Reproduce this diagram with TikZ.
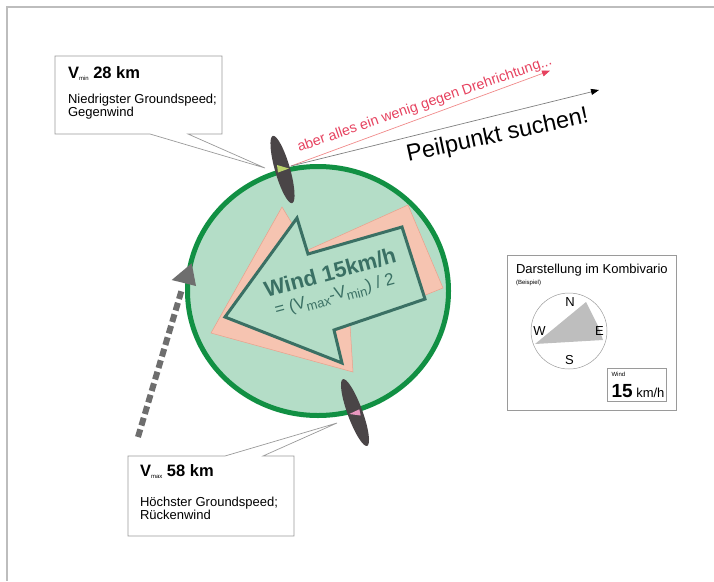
\documentclass[tikz,border=0pt]{standalone}
\usepackage{fontspec}
\setmainfont{Liberation Sans}
\usetikzlibrary{arrows.meta}
\definecolor{framegray}{HTML}{BDBDBD}
\definecolor{boxgray}{HTML}{9A9A9A}
\definecolor{mint}{HTML}{B4DDC7}
\definecolor{ringgreen}{HTML}{119043}
\definecolor{teal}{HTML}{3A7064}
\definecolor{salmon}{HTML}{F6C4B1}
\definecolor{salmonline}{HTML}{E9A08C}
\definecolor{prop}{HTML}{4A4547}
\definecolor{yellowtri}{HTML}{BBD46C}
\definecolor{pinktri}{HTML}{EA97C0}
\definecolor{redtext}{HTML}{E6425F}
\definecolor{redline}{HTML}{F08A8A}
\definecolor{dashgray}{HTML}{6E6E6E}
\definecolor{compassgray}{HTML}{BEBEBE}
\tikzset{
  callout/.style={draw=boxgray, fill=white, line width=0.7pt},
  txt/.style={inner sep=0pt, outer sep=0pt},
  bodytxt/.style={inner sep=0pt, outer sep=0pt, anchor=base west, align=left, font=\fontsize{13}{13.3}\selectfont},
}
\newcommand{\fs}[1]{\fontsize{#1}{#1}\selectfont}
\begin{document}
\begin{tikzpicture}[x=1pt,y=-1pt]
\useasboundingbox (0,0) rectangle (714,581);
% frame
\draw[framegray, line width=1.2pt] (714,7) -- (7,7) -- (7,581);

% callouts
\coordinate (tipmin) at (265,168);
\coordinate (tipmax) at (337,423);
\draw[callout] (55,56) -- (222,56) -- (222,134) -- (188,134) -- (tipmin) -- (150,134) -- (55,134) -- cycle;
\draw[callout] (128,456) -- (225,456) -- (tipmax) -- (263,456) -- (294,456) -- (294,536) -- (128,536) -- cycle;

\node[txt, anchor=base west] (vmin) at (68,78.5) {\bfseries\fs{16.5}V\raisebox{-1.5pt}{\mdseries\fs{6}min} 28 km};
\node[bodytxt] (vmintxt) at (68,116.7) {Niedrigster Groundspeed;\\Gegenwind};
\node[txt, anchor=base west] (vmax) at (140,476.7) {\bfseries\fs{16.5}V\raisebox{-1.5pt}{\mdseries\fs{6}max} 58 km};
\node[bodytxt] (vmaxtxt) at (140,519.3) {Höchster Groundspeed;\\Rückenwind};

% circle
\draw[ringgreen, fill=mint, line width=5pt] (318,291) ellipse (130.5 and 124.5);

% salmon shadow
\fill[salmon, draw=salmonline, line width=0.5pt] (211,333) -- (282,207) -- (308,250) -- (408,205) -- (443,288) -- (350,325) -- (353,372) -- cycle;
% wind arrow
\draw[teal, fill=mint, line width=3pt, line join=miter] (225,317) -- (297,218) -- (308,254) -- (402,227) -- (425,299) -- (334,330) -- (342,363) -- cycle;
\node[txt, anchor=base, rotate=15, text=teal] (windt) at (332,280) {\bfseries\fs{22}Wind 15km/h};
\node[txt, anchor=base, rotate=15, text=teal] (windf) at (336,300) {\fs{17}= (V\raisebox{-4pt}{\fs{13}max}-V\raisebox{-4pt}{\fs{13}min}) / 2};

% dashed arrow
\draw[dashgray, line width=6pt, dash pattern=on 8pt off 4pt] (138,437) -- (182,289);
\fill[dashgray] (171.7,280) -- (191.7,263.3) -- (196,286) -- cycle;

% direction lines
\coordinate (lstart) at (291,166);
\coordinate (redtip) at (550,70.7);
\coordinate (graytip) at (599,90);
\draw[redline, line width=0.7pt, -{Triangle[length=8pt,width=6pt,color=redtext]}] (lstart) -- (redtip);
\draw[gray, line width=0.7pt, -{Triangle[length=8pt,width=6pt,color=black]}] (lstart) -- (graytip);
\node[txt, anchor=base west, rotate=19, text=redtext] (aber) at (299.3,151.7) {\fs{14.3}aber alles ein wenig gegen Drehrichtung...};
\node[txt, anchor=base west, rotate=12.2] (peil) at (408.3,161.7) {\fs{23.5}Peilpunkt suchen!};

% propellers
\begin{scope}[shift={(282.5,169.5)}, rotate=16]
  \fill[prop] (0,0) ellipse (7.5 and 35);
\end{scope}
\fill[yellowtri] (277,165) -- (278,172.5) -- (289,168.5) -- cycle;
\begin{scope}[shift={(355,412.5)}, rotate=20]
  \fill[prop] (0,0) ellipse (7.5 and 35.5);
\end{scope}
\fill[pinktri] (349.3,414) -- (359.3,409.3) -- (360.7,415.5) -- cycle;

% Kombivario box
\draw[boxgray, line width=0.7pt] (507,255) rectangle (676,410);
\node[txt, anchor=base west] (kombi) at (516,273.3) {\fs{13}Darstellung im Kombivario};
\node[txt, anchor=base west] (beisp) at (516,284.3) {\fs{6}(Beispiel)};
\draw[boxgray, line width=0.5pt] (569,331) circle (38);
\fill[compassgray] (535,344) -- (586,302) -- (598,326) -- (603,340) -- cycle;
\node[txt] (cn) at (570,302) {\fs{13}N};
\node[txt] (cw) at (539.5,331) {\fs{13}W};
\node[txt] (ce) at (599.5,331) {\fs{13}E};
\node[txt] (cs) at (569.5,360) {\fs{13}S};
\draw[boxgray, line width=0.7pt] (607,368) rectangle (666,401);
\node[txt, anchor=base west] (wlab) at (611.5,376.5) {\fs{6}Wind};
\node[txt, anchor=base west] (wval) at (611.5,397) {\bfseries\fs{19}15\mdseries\fs{13} km/h};
\end{tikzpicture}
\end{document}
